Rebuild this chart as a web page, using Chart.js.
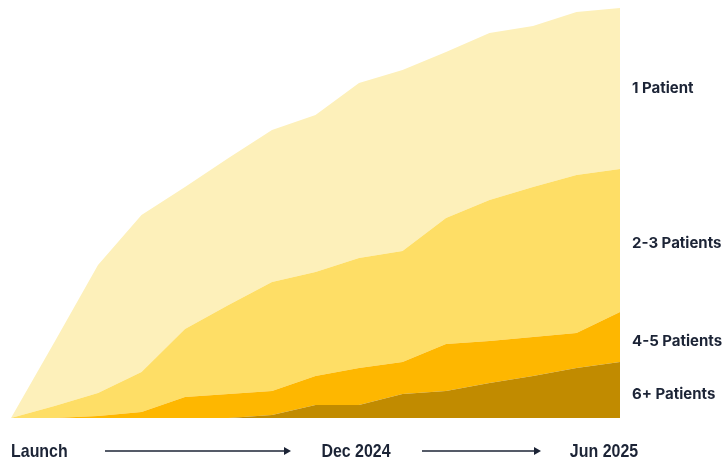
<!DOCTYPE html>
<html>
<head>
<meta charset="utf-8">
<script src="https://cdn.jsdelivr.net/npm/chart.js@4"></script>
<style>
  html, body { margin: 0; padding: 0; background: #ffffff; }
  #wrap { width: 723px; height: 464px; position: relative; }
</style>
</head>
<body>
<div id="wrap"><canvas id="c" width="723" height="464"></canvas></div>
<script>
// Periods from launch to Jun 2025 (15 data points)
const periods = ['Launch','P1','P2','P3','P4','P5','P6','P7','Dec 2024','P9','P10','P11','P12','P13','Jun 2025'];
// Stacked series values (relative units)
const sixPlus    = [0, 0, 0, 0, 0, 0, 3, 13, 13, 24, 27, 35, 42, 50, 56];
const fourFive   = [0, 0, 2, 6, 21, 24, 24, 29, 37, 32, 47, 42, 39, 35, 50];
const twoThree   = [0, 12, 23, 40, 68, 89, 109, 104, 110, 111, 126, 141, 150, 158, 143];
const onePatient = [0, 64, 128, 157, 142, 147, 152, 157, 175, 181, 166, 167, 161, 163, 161];
const seriesNames = ['6+ Patients', '4-5 Patients', '2-3 Patients', '1 Patient'];
const tickLabels = ['Launch', 'Dec 2024', 'Jun 2025'];
const tickIndex = [0, 8, 14];

const colors = ['#C18B00', '#FEB700', '#FEDE66', '#FDF0BA'];
const seriesData = [sixPlus, fourFive, twoThree, onePatient];

const datasets = seriesData.map((d, i) => ({
  label: seriesNames[i],
  data: d,
  backgroundColor: colors[i],
  borderColor: colors[i],
  borderWidth: 0,
  pointRadius: 0,
  tension: 0,
  fill: i === 0 ? 'origin' : '-1',
  order: i
}));

const ink = '#1c2436';

const overlay = {
  id: 'overlay',
  afterDraw(chart) {
    const ctx = chart.ctx;
    const xs = chart.scales.x, ys = chart.scales.y;
    const last = periods.length - 1;
    // right-side series labels at band middles
    ctx.save();
    ctx.fillStyle = ink;
    ctx.font = '700 15px Inter, "DejaVu Sans", sans-serif';
    ctx.textBaseline = 'middle';
    ctx.textAlign = 'left';
    let cum = 0;
    const mids = [];
    seriesData.forEach((d) => {
      const lo = cum; cum += d[last];
      mids.push(ys.getPixelForValue((lo + cum) / 2));
    });
    const offs = [4, 4, 3, 0];
    seriesNames.forEach((n, i) => {
      ctx.fillText(n, xs.right + 12, mids[i] + offs[i]);
    });
    // bottom time labels (condensed)
    ctx.font = '700 19px "Liberation Sans", Arial, sans-serif';
    const yb = 452;
    const sx = 0.84;
    const pos = tickIndex.map(i => xs.getPixelForValue(i));
    const put = (t, x, align) => {
      ctx.save();
      ctx.translate(x, yb);
      ctx.scale(sx, 1);
      ctx.textAlign = align;
      ctx.fillText(t, 0, 0);
      ctx.restore();
    };
    put(tickLabels[0], pos[0], 'left');
    put(tickLabels[1], pos[1] - 3, 'center');
    put(tickLabels[2], pos[2] - 16, 'center');
    // arrows
    const arrow = (x1, x2, y) => {
      ctx.strokeStyle = ink;
      ctx.lineWidth = 1.3;
      ctx.beginPath();
      ctx.moveTo(x1, y); ctx.lineTo(x2 - 6, y); ctx.stroke();
      ctx.beginPath();
      ctx.moveTo(x2, y); ctx.lineTo(x2 - 7, y - 4); ctx.lineTo(x2 - 7, y + 4); ctx.closePath();
      ctx.fill();
    };
    arrow(105, 291, 451);
    arrow(422, 541, 451);
    ctx.restore();
  }
};

new Chart(document.getElementById('c'), {
  type: 'line',
  data: { labels: periods, datasets },
  options: {
    responsive: false,
    animation: false,
    layout: { padding: { left: 11, right: 103, top: 0, bottom: 46 } },
    plugins: { legend: { display: false }, tooltip: { enabled: false } },
    scales: {
      x: { display: false, offset: false },
      y: { display: false, stacked: true, min: 0, max: 418 }
    },
    elements: { line: { borderWidth: 0 } }
  },
  plugins: [overlay]
});
</script>
</body>
</html>
